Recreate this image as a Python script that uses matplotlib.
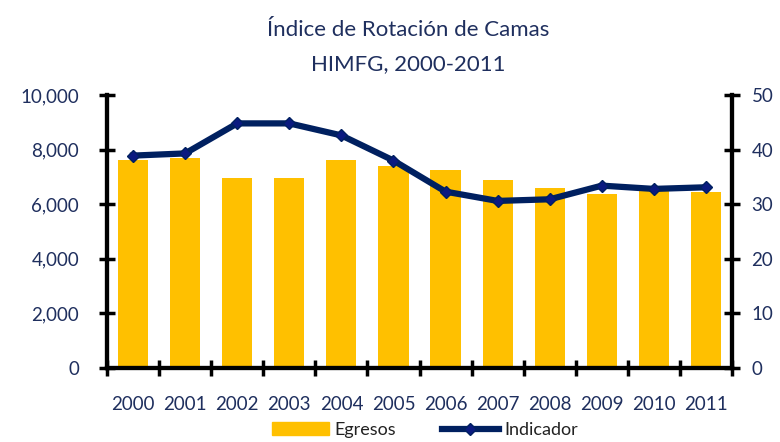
import numpy as np
import matplotlib.pyplot as plt
from matplotlib.patches import Patch
from matplotlib.lines import Line2D

years = ['2000', '2001', '2002', '2003', '2004', '2005',
         '2006', '2007', '2008', '2009', '2010', '2011']
egresos = [7620, 7690, 6960, 6960, 7620, 7400, 7250, 6890, 6590, 6380, 6500, 6450]
indicador = [38.9, 39.3, 44.8, 44.8, 42.6, 38.0, 32.3, 30.6, 30.9, 33.4, 32.8, 33.1]

text_color = '#1F2F5E'
bar_color = '#FFC000'
line_color = '#002060'
font = 'Lato'

plt.rcParams['font.family'] = [font, 'DejaVu Sans']

fig = plt.figure(figsize=(7.8, 4.42), dpi=100)
ax = fig.add_axes([107 / 780, 1 - 368 / 442, 625 / 780, 273 / 442])
ax2 = ax.twinx()

x = np.arange(len(years))
ax.bar(x, egresos, width=0.58, color=bar_color, zorder=2)
ax2.plot(x, indicador, color=line_color, lw=4.5, marker='D', markersize=6,
         markerfacecolor='#0A1A80', markeredgecolor=line_color, zorder=3)

ax.set_xlim(-0.5, len(years) - 0.5)
ax.set_ylim(0, 10000)
ax2.set_ylim(0, 50)
ax.set_yticks(np.arange(0, 10001, 2000))
ax.set_yticklabels([f'{v:,}' for v in range(0, 10001, 2000)])
ax2.set_yticks(np.arange(0, 51, 10))

ax.set_xticks(x)
ax.set_xticklabels(years)
ax.set_xticks(np.arange(-0.5, len(years), 1), minor=True)
ax.tick_params(axis='x', which='major', length=0, pad=20, labelsize=13.5,
               labelcolor=text_color)
ax.tick_params(axis='x', which='minor', direction='inout', length=12, width=2.5)
ax.tick_params(axis='y', direction='inout', length=12, width=2.5, pad=14,
               labelsize=13.5, labelcolor=text_color)
ax2.tick_params(axis='y', direction='inout', length=12, width=2.5, pad=8,
                labelsize=13.5, labelcolor=text_color)

for a in (ax, ax2):
    a.spines['top'].set_visible(False)
    for s in ('left', 'right', 'bottom'):
        a.spines[s].set_linewidth(3)
ax.set_zorder(ax2.get_zorder() - 1)
ax2.patch.set_visible(False)

fig.text(408 / 780, 1 - 30 / 442, 'Índice de Rotación de Camas', ha='center',
         va='center', fontsize=16, color=text_color)
fig.text(408 / 780, 1 - 64 / 442, 'HIMFG, 2000-2011', ha='center',
         va='center', fontsize=16, color=text_color)

handles = [Patch(color=bar_color, label='Egresos'),
           Line2D([], [], color=line_color, lw=4.5, marker='D', markersize=6,
                  markerfacecolor='#0A1A80', label='Indicador')]
fig.legend(handles=handles, loc='center', bbox_to_anchor=(425 / 780, 1 - 430 / 442),
           ncol=2, frameon=False, fontsize=13, handlelength=3.2,
           columnspacing=2.5, handletextpad=0.3, labelcolor='#222222')

fig.savefig('out.png', dpi=100)
